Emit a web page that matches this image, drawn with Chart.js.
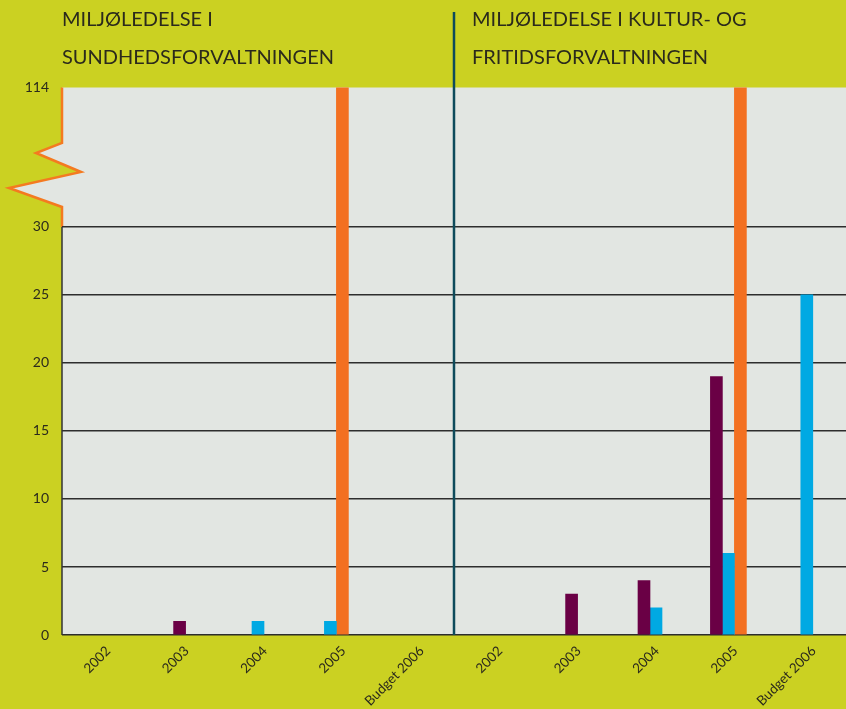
<!DOCTYPE html>
<html>
<head>
<meta charset="utf-8">
<script src="https://cdn.jsdelivr.net/npm/chart.js@4.4.1/dist/chart.umd.min.js"></script>
<style>
  html, body { margin: 0; padding: 0; background: #cbd122; }
  canvas { display: block; }
</style>
</head>
<body>
<canvas id="miljo" width="846" height="709"></canvas>
<script>
// two panels side by side, five years each
var categories = ["2002", "2003", "2004", "2005", "Budget 2006",
                  "2002", "2003", "2004", "2005", "Budget 2006"];
var purpleValues = [null, 1, null, null, null, null, 3, 4, 19, null];
var blueValues   = [null, null, 1, 1, null, null, null, 2, 6, 25];
var orangeValues = [null, null, null, 114, null, null, null, null, 114, null];
var yTicks = [0, 5, 10, 15, 20, 25, 30];
var breakLabel = "114";
var panelTitles = [["MILJØLEDELSE I", "SUNDHEDSFORVALTNINGEN"],
                   ["MILJØLEDELSE I KULTUR- OG", "FRITIDSFORVALTNINGEN"]];

var yTop = 40.25; // top of the broken axis
var ink = "#2b2a1c";

var decor = {
  id: "decor",
  beforeDraw: function (chart) {
    var c = chart.ctx, a = chart.chartArea;
    var y30 = chart.scales.y.getPixelForValue(30);
    var L = a.left, T = a.top;
    var zig = [[L, T + 55.5], [L - 26, T + 65.5], [L + 19, T + 84.5], [L - 53, T + 100.5], [L, T + 119.5]];
    c.save();
    c.fillStyle = "#cbd122";
    c.fillRect(0, 0, chart.width, chart.height);
    // plot background, cut by the axis break
    c.beginPath();
    c.moveTo(a.right, T);
    c.lineTo(L, T);
    zig.forEach(function (p) { c.lineTo(p[0], p[1]); });
    c.lineTo(L, a.bottom);
    c.lineTo(a.right, a.bottom);
    c.closePath();
    c.fillStyle = "#e2e6e2";
    c.fill();
    // break mark
    c.beginPath();
    c.moveTo(L, T);
    zig.forEach(function (p) { c.lineTo(p[0], p[1]); });
    c.lineTo(L, y30);
    c.strokeStyle = "#f47a20";
    c.lineWidth = 2.5;
    c.stroke();
    c.restore();
  },
  afterDatasetsDraw: function (chart) {
    var c = chart.ctx, a = chart.chartArea, x = chart.scales.x;
    var y30 = chart.scales.y.getPixelForValue(30);
    var sep = (x.getPixelForValue(4) + x.getPixelForValue(5)) / 2;
    c.save();
    c.strokeStyle = "#333333";
    c.lineWidth = 1.5;
    c.beginPath();
    c.moveTo(a.left, y30);
    c.lineTo(a.left, a.bottom);
    c.stroke();

    c.strokeStyle = "#0e4b5b";
    c.lineWidth = 2.5;
    c.beginPath();
    c.moveTo(sep, 12);
    c.lineTo(sep, a.bottom);
    c.stroke();

    c.fillStyle = ink;
    c.font = "20px Lato";
    c.textBaseline = "alphabetic";
    var xs = [a.left, sep + 18];
    panelTitles.forEach(function (lines, i) {
      c.fillText(lines[0], xs[i], 26);
      c.fillText(lines[1], xs[i], 64);
    });
    c.restore();
  }
};

new Chart(document.getElementById("miljo"), {
  type: "bar",
  data: {
    labels: categories,
    datasets: [
      { label: "Lilla", data: purpleValues, backgroundColor: "#6a0045" },
      { label: "Blå", data: blueValues, backgroundColor: "#00a9e3" },
      { label: "Orange", data: orangeValues, backgroundColor: "#f37021" }
    ]
  },
  options: {
    responsive: false,
    animation: false,
    layout: { padding: { top: 87.5, left: 0, right: 0, bottom: 0 } },
    datasets: { bar: { barThickness: 12, skipNull: true } },
    plugins: { legend: { display: false }, tooltip: { enabled: false } },
    scales: {
      x: {
        grid: { display: false },
        border: { display: false },
        ticks: { color: ink, font: { family: "Lato", size: 13.5 }, minRotation: 45, maxRotation: 45, padding: 0, labelOffset: 7 },
        afterFit: function (s) { s.height = 74; }
      },
      y: {
        min: 0,
        max: yTop,
        border: { display: false },
        grid: {
          drawTicks: false,
          lineWidth: 1.5,
          color: function (ctx) { return ctx.tick && ctx.tick.value > 30 ? "rgba(0,0,0,0)" : "#2d2d2d"; }
        },
        afterBuildTicks: function (s) {
          s.ticks = yTicks.map(function (v) { return { value: v }; }).concat([{ value: yTop }]);
        },
        ticks: {
          color: ink,
          padding: 13,
          font: { family: "Lato", size: 14 },
          callback: function (v) { return v === yTop ? breakLabel : v; }
        },
        afterFit: function (s) { s.width = 62; }
      }
    }
  },
  plugins: [decor]
});
</script>
</body>
</html>
